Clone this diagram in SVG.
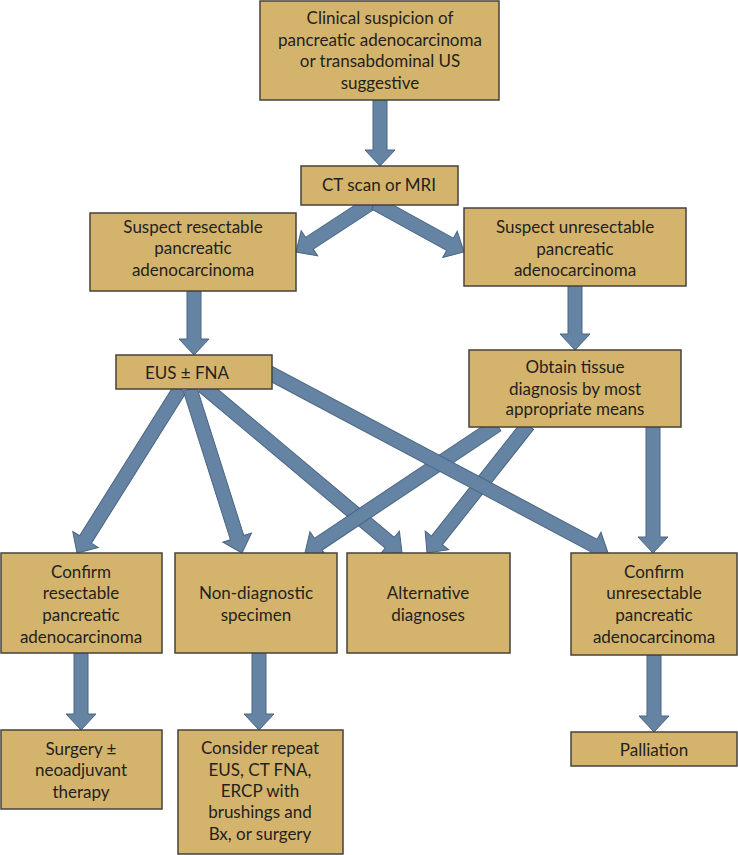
<svg xmlns="http://www.w3.org/2000/svg" width="738" height="855" viewBox="0 0 738 855">
<style>
.box{fill:#D4B46C;stroke:#46423a;stroke-width:1.5}
.t{font-family:Lato,"Open Sans",sans-serif;font-size:17px;fill:#231f20;text-anchor:middle}
.arr{fill:#6584A3;stroke:#4a6482;stroke-width:1}
</style>
<rect width="738" height="855" fill="#ffffff"/>
<g id="connectors">
<polygon class="arr" transform="translate(380,100) rotate(90)" points="0,-7 50,-7 50,-15 66,0 50,15 50,7 0,7"/>
<polygon class="arr" transform="translate(371,203) rotate(146.84)" points="0,-7 73.6,-7 73.6,-15 89.6,0 73.6,15 73.6,7 0,7"/>
<polygon class="arr" transform="translate(375,203) rotate(28.84)" points="0,-7 85.6,-7 85.6,-15 101.6,0 85.6,15 85.6,7 0,7"/>
<polygon class="arr" transform="translate(194,291) rotate(90)" points="0,-7 48,-7 48,-15 64,0 48,15 48,7 0,7"/>
<polygon class="arr" transform="translate(575,286) rotate(90)" points="0,-7 48,-7 48,-15 64,0 48,15 48,7 0,7"/>
<polygon class="arr" transform="translate(180,389) rotate(122.13)" points="0,-7 177.7,-7 177.7,-15 193.7,0 177.7,15 177.7,7 0,7"/>
<polygon class="arr" transform="translate(190,389) rotate(72.41)" points="0,-7 156,-7 156,-15 172,0 156,15 156,7 0,7"/>
<polygon class="arr" transform="translate(203,386) rotate(40)" points="0,-7 243.8,-7 243.8,-15 259.8,0 243.8,15 243.8,7 0,7"/>
<polygon class="arr" transform="translate(497,425) rotate(146.31)" points="0,-7 214.8,-7 214.8,-15 230.8,0 214.8,15 214.8,7 0,7"/>
<polygon class="arr" transform="translate(528,425) rotate(128.28)" points="0,-7 147,-7 147,-15 163,0 147,15 147,7 0,7"/>
<polygon class="arr" transform="translate(268,372) rotate(28.03)" points="0,-7 369.2,-7 369.2,-15 385.2,0 369.2,15 369.2,7 0,7"/>
<polygon class="arr" transform="translate(653,427) rotate(90)" points="0,-7 110,-7 110,-15 126,0 110,15 110,7 0,7"/>
<polygon class="arr" transform="translate(81,653) rotate(90)" points="0,-7 61,-7 61,-15 77,0 61,15 61,7 0,7"/>
<polygon class="arr" transform="translate(259,653) rotate(90)" points="0,-7 61,-7 61,-15 77,0 61,15 61,7 0,7"/>
<polygon class="arr" transform="translate(654,655) rotate(90)" points="0,-7 61,-7 61,-15 77,0 61,15 61,7 0,7"/>
</g>
<g id="n-clinical">
<rect class="box" x="260" y="1" width="239" height="99"/>
<text class="t" x="380" y="24">Clinical suspicion of</text>
<text class="t" x="380" y="46">pancreatic adenocarcinoma</text>
<text class="t" x="380" y="67">or transabdominal US</text>
<text class="t" x="380" y="89">suggestive</text>
</g>
<g id="n-ct">
<rect class="box" x="301" y="166" width="157" height="39"/>
<text class="t" x="379" y="191">CT scan or MRI</text>
</g>
<g id="n-suspect-res">
<rect class="box" x="90" y="213" width="206" height="78"/>
<text class="t" x="193" y="233">Suspect resectable</text>
<text class="t" x="193" y="254">pancreatic</text>
<text class="t" x="193" y="276">adenocarcinoma</text>
</g>
<g id="n-suspect-unres">
<rect class="box" x="464" y="208" width="222" height="78"/>
<text class="t" x="575" y="233">Suspect unresectable</text>
<text class="t" x="575" y="255">pancreatic</text>
<text class="t" x="575" y="276">adenocarcinoma</text>
</g>
<g id="n-eus">
<rect class="box" x="116" y="355" width="156" height="34"/>
<text class="t" x="187" y="379">EUS ± FNA</text>
</g>
<g id="n-obtain">
<rect class="box" x="469" y="350" width="212" height="77"/>
<text class="t" x="575" y="373">Obtain tissue</text>
<text class="t" x="575" y="395">diagnosis by most</text>
<text class="t" x="575" y="415">appropriate means</text>
</g>
<g id="n-confirm-res">
<rect class="box" x="1" y="553" width="161" height="100"/>
<text class="t" x="81" y="578">Confirm</text>
<text class="t" x="81" y="599">resectable</text>
<text class="t" x="81" y="621">pancreatic</text>
<text class="t" x="81" y="643">adenocarcinoma</text>
</g>
<g id="n-nondiag">
<rect class="box" x="175" y="553" width="162" height="100"/>
<text class="t" x="256" y="599">Non-diagnostic</text>
<text class="t" x="256" y="621">specimen</text>
</g>
<g id="n-alt">
<rect class="box" x="347" y="553" width="163" height="100"/>
<text class="t" x="428" y="599">Alternative</text>
<text class="t" x="428" y="621">diagnoses</text>
</g>
<g id="n-confirm-unres">
<rect class="box" x="571" y="553" width="166" height="102"/>
<text class="t" x="654" y="578">Confirm</text>
<text class="t" x="654" y="599">unresectable</text>
<text class="t" x="654" y="621">pancreatic</text>
<text class="t" x="654" y="643">adenocarcinoma</text>
</g>
<g id="n-surgery">
<rect class="box" x="1" y="730" width="161" height="79"/>
<text class="t" x="81" y="755">Surgery ±</text>
<text class="t" x="81" y="776">neoadjuvant</text>
<text class="t" x="81" y="798">therapy</text>
</g>
<g id="n-consider">
<rect class="box" x="178" y="730" width="165" height="124"/>
<text class="t" x="260" y="754">Consider repeat</text>
<text class="t" x="260" y="776">EUS, CT FNA,</text>
<text class="t" x="260" y="797">ERCP with</text>
<text class="t" x="260" y="818">brushings and</text>
<text class="t" x="260" y="840">Bx, or surgery</text>
</g>
<g id="n-palliation">
<rect class="box" x="571" y="732" width="166" height="34"/>
<text class="t" x="654" y="756">Palliation</text>
</g>
</svg>
